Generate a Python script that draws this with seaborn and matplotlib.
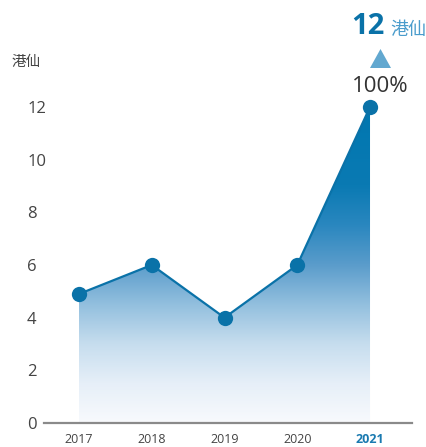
import numpy as np
import pandas as pd
import matplotlib
matplotlib.use("Agg")
import matplotlib.pyplot as plt
from matplotlib.colors import LinearSegmentedColormap
from matplotlib.patches import Polygon
import seaborn as sns

years = [2017, 2018, 2019, 2020, 2021]
values = [4.9, 6.0, 4.0, 6.0, 12.0]
ytick_vals = [0, 2, 4, 6, 8, 10, 12]
ytick_labels = ["0", "2", "4", "6", "8", "10", "12"]
unit_label = "港仙"
top_value = "12"
top_change = "100%"

sns.set_style("white")
plt.rcParams['font.family'] = ['Open Sans', 'Noto Sans CJK TC', 'DejaVu Sans']

LINE = "#0a72a8"
df = pd.DataFrame({"year": years, "value": values})

fig = plt.figure(figsize=(4.27, 4.47), dpi=100)
ax = fig.add_axes([44/427, 24/447, 368/427, 368.7/447])

ax.set_xlim(2017 - 0.481, 2021 + 0.577)
ax.set_ylim(0, 14)

# gradient fill under the line
cmap = LinearSegmentedColormap.from_list("g", [
    (0.0, "#f8fafd"), (1.5/12, "#e6eff8"), (3/12, "#c6ddee"), (4.5/12, "#92bfde"),
    (6/12, "#5a9ccb"), (7.5/12, "#2a87bf"), (9/12, "#0a7ab3"), (1.0, "#0077b0")])
grad = np.linspace(0, 1, 256).reshape(-1, 1)
img = ax.imshow(grad, extent=[years[0], years[-1], 0, 12], origin="lower",
                cmap=cmap, aspect="auto", zorder=1)
poly = Polygon([(years[0], 0)] + list(zip(years, values)) + [(years[-1], 0)],
               closed=True, facecolor="none", edgecolor="none")
ax.add_patch(poly)
img.set_clip_path(poly)

sns.lineplot(data=df, x="year", y="value", ax=ax, color=LINE, linewidth=1.6,
             marker="o", markersize=11, markeredgewidth=0, zorder=3, clip_on=False)

ax.set_xlim(2017 - 0.481, 2021 + 0.577)
ax.set_ylim(0, 14)

for s in ["top", "right", "left"]:
    ax.spines[s].set_visible(False)
ax.spines["bottom"].set_color("#8a8a8a")
ax.spines["bottom"].set_linewidth(1.6)
ax.spines["bottom"].set_zorder(4)

ax.set_yticks(ytick_vals)
ax.set_yticklabels(ytick_labels, fontsize=12, color="#444444")
for lab in ax.get_yticklabels():
    lab.set_horizontalalignment("left")
ax.tick_params(axis="y", length=0, pad=12.2)

ax.set_xticks(years)
ax.set_xticklabels([str(y) for y in years], fontsize=9, color="#444444")
ax.tick_params(axis="x", length=0, pad=7)
last = ax.get_xticklabels()[-1]
last.set_color("#1a7ab0")
last.set_fontweight("bold")

ax.set_xlabel("")
ax.set_ylabel("")
ax.grid(False)

# unit label top-left
fig.text(12/427, 1 - 62/447, unit_label, fontsize=10.5, color="#444444",
         family=['Noto Sans CJK TC'], ha="left", va="center")

# top annotation
fig.text(384/427, 1 - 26/447, top_value, fontsize=21, fontweight="bold",
         color="#0a72a8", ha="right", va="center")
fig.text(390/427, 1 - 30/447, unit_label, fontsize=13, color="#4a9ccc",
         family=['Noto Sans CJK TC'], ha="left", va="center")
tri = Polygon([(370/427, 1 - 68/447), (391/427, 1 - 68/447), (380.5/427, 1 - 49/447)],
              closed=True, transform=fig.transFigure, facecolor="#62a8d0", edgecolor="none")
fig.patches.append(tri)
fig.text(380/427, 1 - 87/447, top_change, fontsize=16, color="#333333",
         ha="center", va="center")

fig.savefig("out.png", dpi=100)
